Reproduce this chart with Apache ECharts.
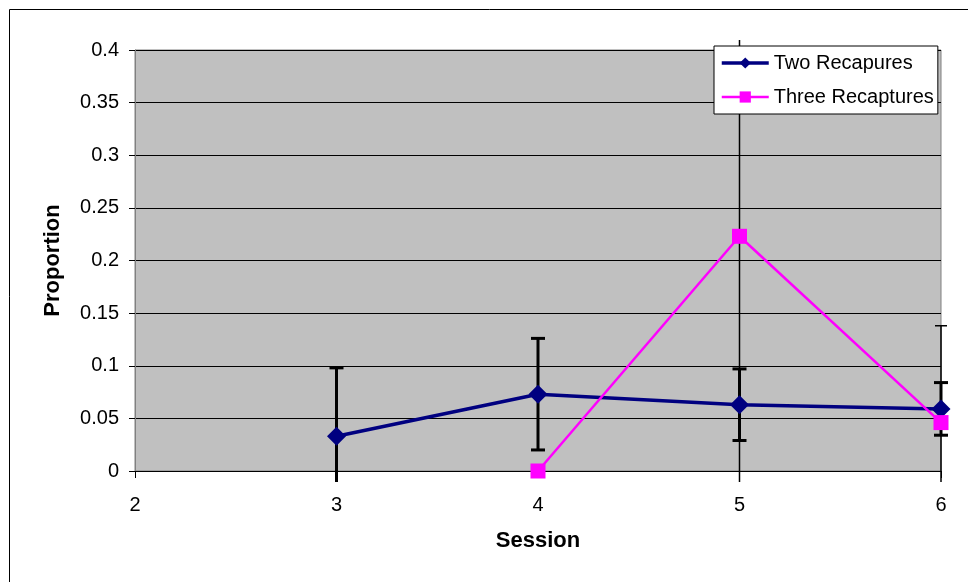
<!DOCTYPE html>
<html>
<head>
<meta charset="utf-8">
<script src="https://cdn.jsdelivr.net/npm/echarts@6/dist/echarts.min.js"></script>
<style>html,body{margin:0;padding:0;background:#fff}#c{width:968px;height:582px}</style>
</head>
<body>
<div id="c"></div>
<script>
// Data
var sessionsTwo = [3, 4, 5, 6];
var valuesTwo = [0.033, 0.073, 0.063, 0.059];
var errTwo = [0.065, 0.053, 0.034, 0.025];

var sessionsThree = [4, 5, 6];
var valuesThree = [0.0, 0.223, 0.046];
var errThree = [0.0, 0.3, 0.092];

var seriesNames = ['Two Recapures', 'Three Recaptures'];
var xTicks = [2, 3, 4, 5, 6];
var yTicks = [0, 0.05, 0.1, 0.15, 0.2, 0.25, 0.3, 0.35, 0.4];

var FONT = 'Liberation Sans, Arial, sans-serif';

function pairs(xs, ys) { return xs.map(function (x, i) { return [x, ys[i]]; }); }
function errData(xs, ys, es) { return xs.map(function (x, i) { return [x, ys[i], es[i]]; }); }

function errRenderer(width, capHalf) {
  return function (params, api) {
    var x = api.value(0), y = api.value(1), e = api.value(2);
    if (!e) return null;
    var top = api.coord([x, y + e]);
    var bot = api.coord([x, y - e]);
    var cs = params.coordSys;
    var yMin = cs.y - 10, yMax = cs.y + cs.height + 11;
    var children = [];
    var t = Math.max(top[1], yMin), b = Math.min(bot[1], yMax);
    children.push({type: 'line', shape: {x1: top[0], y1: t, x2: top[0], y2: b},
      style: {stroke: '#000', lineWidth: width}});
    if (top[1] >= yMin) children.push({type: 'line', shape: {x1: top[0] - capHalf, y1: top[1], x2: top[0] + capHalf, y2: top[1]},
      style: {stroke: '#000', lineWidth: width}});
    if (bot[1] <= yMax) children.push({type: 'line', shape: {x1: bot[0] - capHalf, y1: bot[1], x2: bot[0] + capHalf, y2: bot[1]},
      style: {stroke: '#000', lineWidth: width}});
    return {type: 'group', children: children};
  };
}

var chart = echarts.init(document.getElementById('c'));
chart.setOption({
  animation: false,
  backgroundColor: '#fff',
  graphic: [{
    type: 'rect', z: 0, silent: true,
    shape: {x: 9.5, y: 9.5, width: 1200, height: 1200},
    style: {fill: 'none', stroke: '#000', lineWidth: 1}
  }],
  grid: {
    left: 135, right: 27, top: 50, bottom: 111,
    show: true, backgroundColor: '#C0C0C0', borderColor: '#808080', borderWidth: 1
  },
  legend: {
    left: 714, top: 46,
    orient: 'vertical',
    backgroundColor: '#fff', borderColor: '#000', borderWidth: 1,
    padding: [7, 4, 7, 6],
    itemWidth: 47, itemHeight: 14, itemGap: 14,
    textStyle: {fontFamily: FONT, fontSize: 20, color: '#000'},
    data: [
      {name: seriesNames[0], lineStyle: {width: 3.5}},
      {name: seriesNames[1], lineStyle: {width: 2.5}}
    ]
  },
  xAxis: {
    type: 'value', min: 2, max: 6, interval: 1,
    name: 'Session', nameLocation: 'middle', nameGap: 59,
    nameTextStyle: {fontFamily: FONT, fontSize: 22, fontWeight: 'bold', color: '#000'},
    axisLine: {show: true, onZero: false, lineStyle: {color: '#000', width: 1}},
    axisTick: {show: true, length: 7, inside: false, lineStyle: {color: '#000'}},
    axisLabel: {fontFamily: FONT, fontSize: 20, color: '#000', margin: 24,
      formatter: function (v) { return xTicks.indexOf(v) >= 0 ? String(v) : ''; }},
    splitLine: {show: false}
  },
  yAxis: {
    type: 'value', min: 0, max: 0.4, interval: 0.05,
    name: 'Proportion', nameLocation: 'middle', nameGap: 71, nameRotate: 90,
    nameTextStyle: {fontFamily: FONT, fontSize: 22, fontWeight: 'bold', color: '#000'},
    axisLine: {show: true, lineStyle: {color: '#808080', width: 1}},
    axisTick: {show: true, length: 6, lineStyle: {color: '#000'}},
    axisLabel: {fontFamily: FONT, fontSize: 20, color: '#000', margin: 16,
      formatter: function (v) {
        var r = Math.round(v * 100) / 100;
        return yTicks.indexOf(r) >= 0 ? String(r) : '';
      }},
    splitLine: {show: true, lineStyle: {color: '#000', width: 1}}
  },
  series: [
    {
      type: 'custom', name: 'errTwo', z: 3, clip: false,
      renderItem: errRenderer(3, 7),
      data: errData(sessionsTwo, valuesTwo, errTwo),
      encode: {x: 0, y: 1}
    },
    {
      type: 'custom', name: 'errThree', z: 3, clip: false,
      renderItem: errRenderer(1.5, 6),
      data: errData(sessionsThree, valuesThree, errThree),
      encode: {x: 0, y: 1}
    },
    {
      type: 'line', name: seriesNames[0], z: 4, clip: false,
      data: pairs(sessionsTwo, valuesTwo),
      symbol: 'diamond', symbolSize: 19,
      itemStyle: {color: '#000080'},
      lineStyle: {color: '#000080', width: 3.5}
    },
    {
      type: 'line', name: seriesNames[1], z: 5, clip: false,
      data: pairs(sessionsThree, valuesThree),
      symbol: 'rect', symbolSize: 15,
      itemStyle: {color: '#FF00FF'},
      lineStyle: {color: '#FF00FF', width: 2.5}
    }
  ]
});
</script>
</body>
</html>
